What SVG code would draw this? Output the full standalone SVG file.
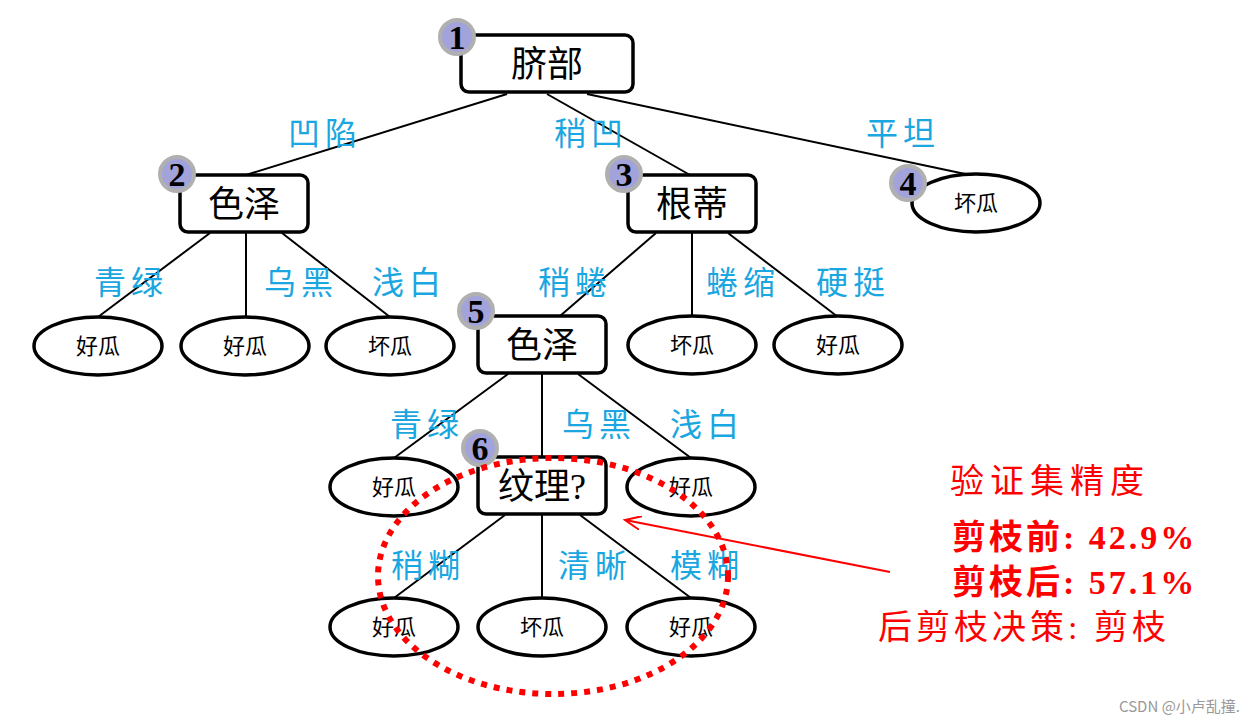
<svg xmlns="http://www.w3.org/2000/svg" width="1250" height="722" viewBox="0 0 1250 722">
<style>
.box{fill:#fff;stroke:#000;stroke-width:3.5}
.leaf{fill:#fff;stroke:#000;stroke-width:3.5}
.bd{fill:#a3a3dc;stroke:#b0b0b0;stroke-width:4}
.bn{font-family:"Liberation Serif",serif;font-weight:bold;font-size:34px;text-anchor:middle}
.nt{font-family:"Liberation Serif","Noto Sans CJK SC",serif;font-size:36px;text-anchor:middle}
.lt{font-family:"Liberation Serif","Noto Sans CJK SC",serif;font-size:22px;text-anchor:middle}
.el{font-family:"Noto Sans CJK SC",sans-serif;font-size:32px;fill:#1aa6e0;text-anchor:middle;letter-spacing:5px}
.rd{font-family:"Liberation Serif","Noto Sans CJK SC",serif;font-size:34px;fill:#f00;font-weight:bold;letter-spacing:3px}
line{stroke:#000;stroke-width:2}
</style>
<defs><marker id="ar" markerWidth="20" markerHeight="14" refX="16" refY="7" orient="auto" markerUnits="userSpaceOnUse"><path d="M0,0 L16,7 L0,14" fill="none" stroke="#f00" stroke-width="2"/></marker></defs>
<rect width="1250" height="722" fill="#fff"/>
<g id="connectors">
<line x1="507" y1="94" x2="246" y2="175"/><line x1="547" y1="94" x2="690" y2="175"/><line x1="587" y1="94" x2="970" y2="175"/>
<line x1="210" y1="233" x2="98" y2="317"/><line x1="246" y1="233" x2="246" y2="317"/><line x1="282" y1="233" x2="390" y2="317"/>
<line x1="656" y1="233" x2="560" y2="316"/><line x1="692" y1="233" x2="692" y2="317"/><line x1="728" y1="233" x2="838" y2="317"/>
<line x1="508" y1="374" x2="394" y2="458"/><line x1="542" y1="374" x2="542" y2="458"/><line x1="578" y1="374" x2="691" y2="458"/>
<line x1="505" y1="515" x2="394" y2="598"/><line x1="542" y1="515" x2="542" y2="598"/><line x1="580" y1="515" x2="691" y2="598"/>
</g>
<g id="edge-labels">
<text class="el" x="325" y="145">凹陷</text><text class="el" x="591" y="145">稍凹</text><text class="el" x="903" y="145">平坦</text>
<text class="el" x="131" y="294">青绿</text><text class="el" x="301" y="294">乌黑</text><text class="el" x="409" y="294">浅白</text>
<text class="el" x="575" y="294">稍蜷</text><text class="el" x="743" y="294">蜷缩</text><text class="el" x="853" y="294">硬挺</text>
<text class="el" x="427" y="436">青绿</text><text class="el" x="599" y="436">乌黑</text><text class="el" x="707" y="436">浅白</text>
<text class="el" x="428" y="577">稍糊</text><text class="el" x="595" y="577">清晰</text><text class="el" x="707" y="577">模糊</text>
</g>
<g id="n1"><rect class="box" x="461" y="35" width="172" height="57" rx="8"/><text class="nt" x="547" y="77">脐部</text><circle class="bd" cx="457" cy="37" r="17"/><text class="bn" x="457" y="49">1</text></g>
<g id="n2"><rect class="box" x="180" y="175" width="128" height="57" rx="8"/><text class="nt" x="244" y="217">色泽</text><circle class="bd" cx="177" cy="174" r="17"/><text class="bn" x="177" y="186">2</text></g>
<g id="n3"><rect class="box" x="628" y="175" width="128" height="57" rx="8"/><text class="nt" x="692" y="217">根蒂</text><circle class="bd" cx="624" cy="174" r="17"/><text class="bn" x="624" y="186">3</text></g>
<g id="n4"><ellipse class="leaf" cx="976" cy="203" rx="64" ry="29"/><text class="lt" x="976" y="211">坏瓜</text><circle class="bd" cx="908" cy="183" r="17"/><text class="bn" x="908" y="195">4</text></g>
<g id="l1"><ellipse class="leaf" cx="98" cy="346" rx="64" ry="29"/><text class="lt" x="98" y="354">好瓜</text></g>
<g id="l2"><ellipse class="leaf" cx="245" cy="346" rx="64" ry="29"/><text class="lt" x="245" y="354">好瓜</text></g>
<g id="l3"><ellipse class="leaf" cx="390" cy="346" rx="64" ry="29"/><text class="lt" x="390" y="354">坏瓜</text></g>
<g id="l4"><ellipse class="leaf" cx="692" cy="345" rx="64" ry="29"/><text class="lt" x="692" y="353">坏瓜</text></g>
<g id="l5"><ellipse class="leaf" cx="838" cy="345" rx="64" ry="29"/><text class="lt" x="838" y="353">好瓜</text></g>
<g id="n5"><rect class="box" x="478" y="316" width="128" height="57" rx="8"/><text class="nt" x="542" y="358">色泽</text><circle class="bd" cx="476" cy="311" r="17"/><text class="bn" x="476" y="323">5</text></g>
<g id="l6"><ellipse class="leaf" cx="394" cy="487" rx="64" ry="29"/><text class="lt" x="394" y="495">好瓜</text></g>
<g id="l7"><ellipse class="leaf" cx="691" cy="487" rx="64" ry="29"/><text class="lt" x="691" y="495">好瓜</text></g>
<g id="n6"><rect class="box" x="478" y="457" width="128" height="57" rx="8"/><text class="nt" x="542" y="499">纹理?</text><circle class="bd" cx="480" cy="448" r="17"/><text class="bn" x="480" y="460">6</text></g>
<g id="l8"><ellipse class="leaf" cx="394" cy="627" rx="64" ry="29"/><text class="lt" x="394" y="635">好瓜</text></g>
<g id="l9"><ellipse class="leaf" cx="542" cy="627" rx="64" ry="29"/><text class="lt" x="542" y="635">坏瓜</text></g>
<g id="l10"><ellipse class="leaf" cx="691" cy="627" rx="64" ry="29"/><text class="lt" x="691" y="635">好瓜</text></g>
<g id="annot">
<ellipse cx="553" cy="576" rx="175" ry="118" fill="none" stroke="#f00" stroke-width="6" stroke-dasharray="6,7"/>
<line x1="890" y1="572" x2="625" y2="520" style="stroke:#f00;stroke-width:2" marker-end="url(#ar)"/>
<text class="rd" x="950" y="493" style="font-weight:normal;letter-spacing:6px">验证集精度</text>
<text class="rd" x="952" y="549">剪枝前: 42.9%</text>
<text class="rd" x="952" y="594">剪枝后: 57.1%</text>
<text class="rd" x="878" y="639" style="font-weight:normal;letter-spacing:4px">后剪枝决策: 剪枝</text>
<text x="1240" y="712" text-anchor="end" style="font-family:'Noto Sans CJK SC',sans-serif;font-size:15px;fill:#999">CSDN @小卢乱撞.</text>
</g>
</svg>
